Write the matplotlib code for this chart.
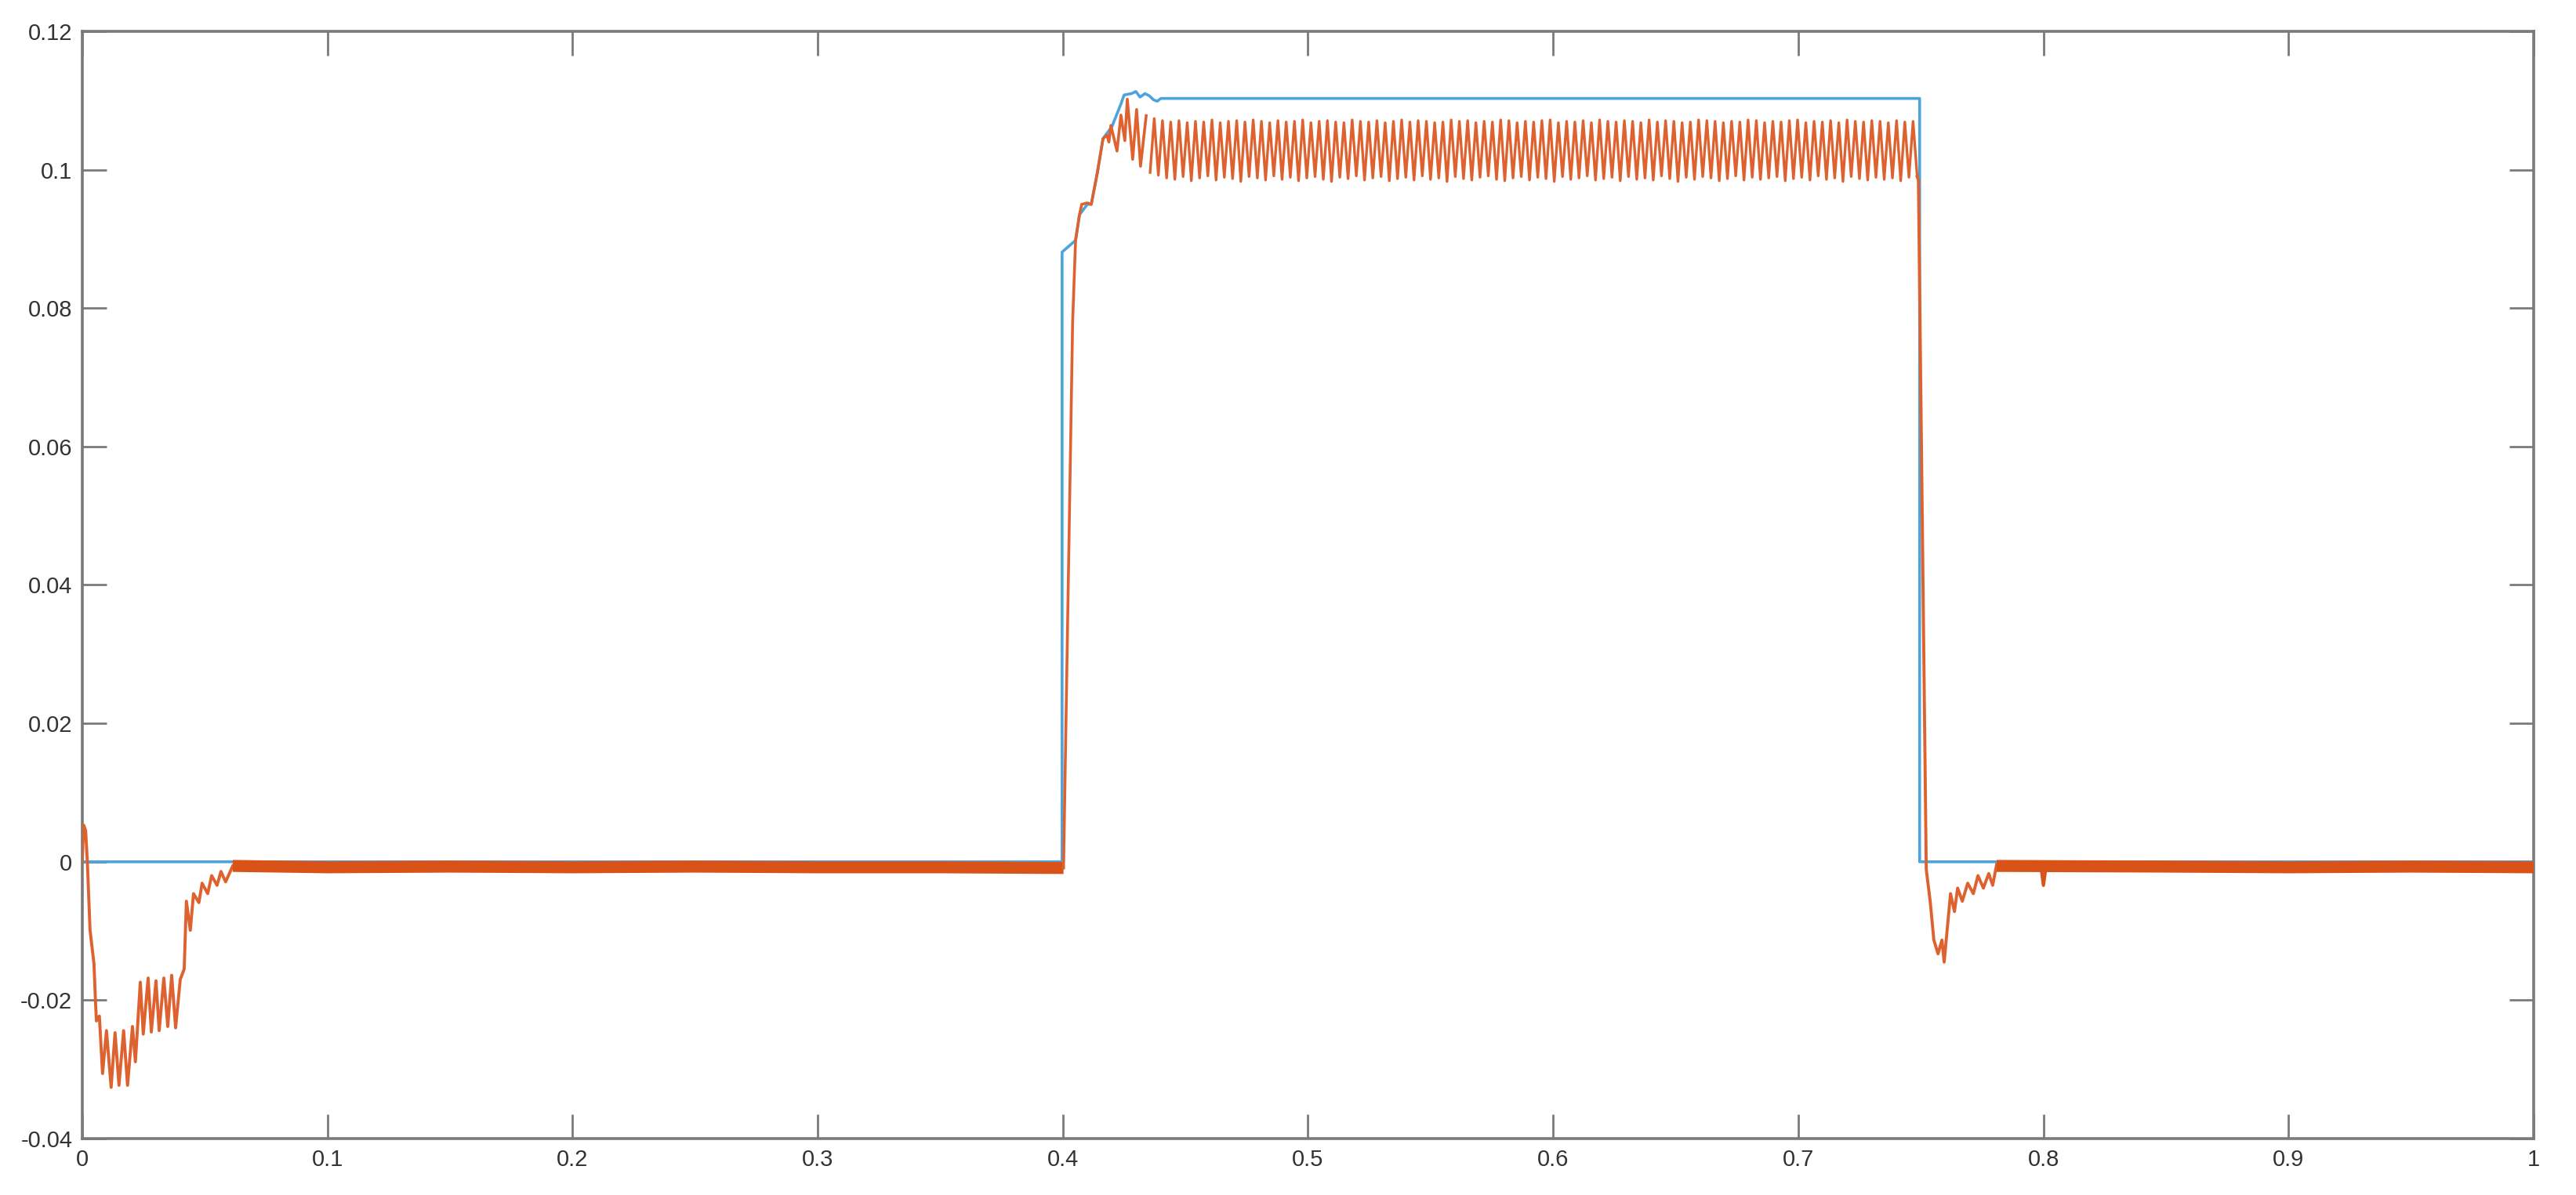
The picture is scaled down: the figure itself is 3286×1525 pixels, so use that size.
import numpy as np
import matplotlib
matplotlib.use("Agg")
import matplotlib.pyplot as plt
from matplotlib.ticker import FuncFormatter, MultipleLocator

plt.rcParams['font.family'] = ['Liberation Sans', 'DejaVu Sans']
plt.rcParams['axes.unicode_minus'] = False

# reference signal (blue)
ref_t = [0.0, 0.3997, 0.3997, 0.4052, 0.4068, 0.4100, 0.4116, 0.4141, 0.4164, 0.4200,
         0.4237, 0.4250, 0.4280, 0.4298, 0.4315, 0.4335, 0.4352, 0.4370, 0.4385, 0.4400,
         0.7495, 0.7495, 1.0]
ref_y = [0.0, 0.0, 0.0881, 0.0898, 0.0935, 0.0950, 0.0950, 0.0996, 0.1045, 0.1062,
         0.1095, 0.1108, 0.1110, 0.1113, 0.1105, 0.1110, 0.1107, 0.1101, 0.1099, 0.1103,
         0.1103, 0.0, 0.0]

# measured signal (orange): start-up transient
start_t = [0.0, 0.0006, 0.0014, 0.0021, 0.0032, 0.0048, 0.0054, 0.0058, 0.0070, 0.0083,
           0.0099, 0.0118, 0.0134, 0.0150, 0.0169, 0.0185, 0.0205, 0.0217, 0.0237, 0.0249,
           0.0269, 0.0282, 0.0301, 0.0314, 0.0333, 0.0349, 0.0365, 0.0381, 0.0400, 0.0416,
           0.0425, 0.0441, 0.0454, 0.0476, 0.0489, 0.0512, 0.0528, 0.0550, 0.0566, 0.0585,
           0.0614]
start_y = [0.0, 0.0053, 0.0045, 0.0, -0.0099, -0.0147, -0.0200, -0.0230, -0.0223, -0.0306,
           -0.0244, -0.0326, -0.0247, -0.0323, -0.0244, -0.0323, -0.0238, -0.0289, -0.0174, -0.0249,
           -0.0168, -0.0246, -0.0172, -0.0244, -0.0168, -0.0238, -0.0164, -0.0240, -0.0170, -0.0155,
           -0.0057, -0.0099, -0.0046, -0.0059, -0.0031, -0.0046, -0.0020, -0.0034, -0.0014, -0.0029,
           -0.0006]

# noisy band around zero
band1_t = [0.0614, 0.10, 0.15, 0.20, 0.25, 0.30, 0.35, 0.4003]
band1_y = [-0.0006, -0.0008, -0.0007, -0.0008, -0.0007, -0.0008, -0.0008, -0.0009]

# step up at 0.4 s
rise_t = [0.4003, 0.4040, 0.4052, 0.4068, 0.4077, 0.4100, 0.4116, 0.4141, 0.4164, 0.4180,
          0.4188, 0.4196, 0.4221, 0.4237, 0.4253, 0.4263, 0.4285, 0.4301, 0.4317, 0.4340]
rise_y = [-0.0009, 0.0780, 0.0898, 0.0935, 0.0950, 0.0952, 0.0950, 0.0996, 0.1045, 0.1050,
          0.1040, 0.1064, 0.1027, 0.1079, 0.1042, 0.1102, 0.1015, 0.1087, 0.1005, 0.1078]

# steady ripple between 0.4356 s and 0.7485 s (alternating trough / peak)
ripple_start = 0.4356
ripple_end = 0.7485
ripple_troughs = [0.0996, 0.0992, 0.0988, 0.0986, 0.0990, 0.0984, 0.0988, 0.0991, 0.0985, 0.0989,
                  0.0987, 0.0983, 0.0990, 0.0988, 0.0985, 0.0991, 0.0986, 0.0989, 0.0984, 0.0988,
                  0.0990, 0.0986, 0.0983, 0.0989, 0.0987, 0.0991, 0.0985, 0.0988, 0.0990, 0.0984,
                  0.0987, 0.0989, 0.0985, 0.0991, 0.0986, 0.0988, 0.0983, 0.0990, 0.0987, 0.0985,
                  0.0989, 0.0991, 0.0986, 0.0984, 0.0988, 0.0990, 0.0985, 0.0989, 0.0987, 0.0983,
                  0.0990, 0.0986, 0.0988, 0.0991, 0.0985, 0.0987, 0.0989, 0.0984, 0.0990, 0.0986,
                  0.0988, 0.0985, 0.0991, 0.0987, 0.0983, 0.0989, 0.0986, 0.0990, 0.0988, 0.0984,
                  0.0987, 0.0991, 0.0985, 0.0989, 0.0986, 0.0988, 0.0990, 0.0984, 0.0987, 0.0989,
                  0.0985, 0.0991, 0.0986, 0.0988, 0.0983, 0.0990, 0.0987, 0.0985, 0.0989, 0.0986,
                  0.0988, 0.0984, 0.0989, 0.0990]
ripple_peaks = [0.1074, 0.1071, 0.1069, 0.1071, 0.1068, 0.1070, 0.1069, 0.1072, 0.1068, 0.1070,
                0.1071, 0.1069, 0.1072, 0.1070, 0.1068, 0.1071, 0.1069, 0.1070, 0.1072, 0.1068,
                0.1070, 0.1071, 0.1069, 0.1068, 0.1072, 0.1070, 0.1069, 0.1071, 0.1068, 0.1070,
                0.1072, 0.1069, 0.1071, 0.1070, 0.1068, 0.1069, 0.1072, 0.1070, 0.1071, 0.1068,
                0.1070, 0.1069, 0.1072, 0.1071, 0.1068, 0.1070, 0.1069, 0.1071, 0.1072, 0.1068,
                0.1070, 0.1069, 0.1071, 0.1068, 0.1072, 0.1070, 0.1069, 0.1071, 0.1070, 0.1068,
                0.1072, 0.1069, 0.1071, 0.1070, 0.1068, 0.1069, 0.1072, 0.1071, 0.1070, 0.1068,
                0.1070, 0.1069, 0.1072, 0.1071, 0.1068, 0.1070, 0.1069, 0.1071, 0.1072, 0.1068,
                0.1070, 0.1069, 0.1071, 0.1068, 0.1072, 0.1070, 0.1069, 0.1071, 0.1070, 0.1068,
                0.1071, 0.1069, 0.1070]

# step down at 0.75 s and recovery
fall_t = [0.7485, 0.7490, 0.7522, 0.7538, 0.7553, 0.7570, 0.7586, 0.7595, 0.7621, 0.7637,
          0.7650, 0.7669, 0.7691, 0.7714, 0.7733, 0.7755, 0.7777, 0.7793, 0.7809]
fall_y = [0.0990, 0.0985, -0.0011, -0.0057, -0.0113, -0.0133, -0.0113, -0.0145, -0.0046, -0.0072,
          -0.0038, -0.0057, -0.0031, -0.0046, -0.0020, -0.0038, -0.0017, -0.0034, -0.0004]

band2_t = [0.7809, 0.85, 0.90, 0.95, 1.0]
band2_y = [-0.0006, -0.0007, -0.0008, -0.0007, -0.0008]

# single glitch in the band near 0.8 s
glitch_t = [0.7990, 0.8000, 0.8010]
glitch_y = [-0.0007, -0.0034, -0.0008]

blue = '#4DA3DB'
orange = '#DE6230'
band_orange = '#D95319'
axis_grey = '#7a7a7a'
label_grey = '#333333'

n = min(len(ripple_peaks), len(ripple_troughs) - 1)
ripple_y = []
for i in range(n):
    ripple_y += [ripple_troughs[i], ripple_peaks[i]]
ripple_y.append(ripple_troughs[n])
ripple_t = np.linspace(ripple_start, ripple_end, len(ripple_y))

fig = plt.figure(figsize=(32.87, 15.25), dpi=100)
ax = fig.add_axes([0.0319, 0.0472, 0.9514, 0.9266])

ax.plot(ref_t, ref_y, color=blue, lw=2.6, zorder=2)
ax.plot(start_t, start_y, color=orange, lw=2.8, zorder=3)
ax.plot(band1_t, band1_y, color=band_orange, lw=11, solid_capstyle='butt', zorder=3)
ax.plot(rise_t, rise_y, color=orange, lw=2.6, zorder=3)
ax.plot(ripple_t, ripple_y, color=orange, lw=2.4, zorder=3)
ax.plot(fall_t, fall_y, color=orange, lw=2.8, zorder=3)
ax.plot(band2_t, band2_y, color=band_orange, lw=11, solid_capstyle='butt', zorder=3)
ax.plot(glitch_t, glitch_y, color=band_orange, lw=3, zorder=3)

ax.set_xlim(0, 1)
ax.set_ylim(-0.04, 0.12)
ax.xaxis.set_major_locator(MultipleLocator(0.1))
ax.yaxis.set_major_locator(MultipleLocator(0.02))
fmt = FuncFormatter(lambda v, p: '%g' % round(v, 4))
ax.xaxis.set_major_formatter(fmt)
ax.yaxis.set_major_formatter(fmt)

ax.tick_params(direction='in', length=22, width=2, color=axis_grey,
               labelsize=21, labelcolor=label_grey, pad=9,
               top=True, right=True)
for s in ax.spines.values():
    s.set_color(axis_grey)
    s.set_linewidth(2.6)

fig.savefig('out.png', dpi=100)
